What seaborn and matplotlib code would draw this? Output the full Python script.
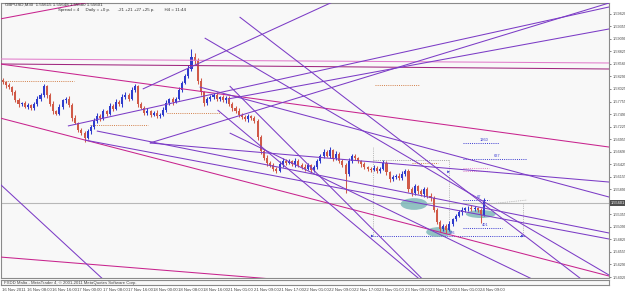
import numpy as np
import pandas as pd
import matplotlib
matplotlib.use("Agg")
import matplotlib.pyplot as plt
import matplotlib.transforms as mtransforms
from matplotlib.patches import Ellipse
import seaborn as sns

# ---------------- data ----------------
symbol_title = "GBPUSD,M30  1.55615 1.55648 1.55580 1.55601"
info_line = "Spread = 4     Daily = +0 p.      -21 +21 +27 +25 p.        H4 = 11:44"
copyright_text = "FXDD Malta - MetaTrader 4, \u00a9 2001-2011 MetaQuotes Software Corp."

first_open = 1.5822
closes = [
    1.5817, 1.5810, 1.5806, 1.5796, 1.5778, 1.5770, 1.5772, 1.5764, 1.5768, 1.5762,
    1.5770, 1.5782, 1.5790, 1.5808, 1.5790, 1.5770, 1.5755, 1.5750, 1.5765, 1.5778,
    1.5782, 1.5768, 1.5740, 1.5730, 1.5715, 1.5708, 1.5698, 1.5712, 1.5722, 1.5735,
    1.5745, 1.5740, 1.5755, 1.5750, 1.5766, 1.5760, 1.5775, 1.5770, 1.5785, 1.5790,
    1.5782, 1.5800, 1.5808, 1.5770, 1.5762, 1.5752, 1.5755, 1.5748, 1.5752, 1.5745,
    1.5748, 1.5758, 1.5772, 1.5780, 1.5775, 1.5782, 1.5800, 1.5815, 1.5830, 1.5845,
    1.5870, 1.5862, 1.5820, 1.5795, 1.5772, 1.5780, 1.5785, 1.5790, 1.5780, 1.5785,
    1.5778, 1.5784, 1.5770, 1.5762, 1.5755, 1.5748, 1.5742, 1.5738, 1.5745, 1.5740,
    1.5735, 1.5700, 1.5670, 1.5655, 1.5645, 1.5640, 1.5632, 1.5628, 1.5642, 1.5650,
    1.5645, 1.5648, 1.5642, 1.5650, 1.5640, 1.5636, 1.5632, 1.5640, 1.5630, 1.5636,
    1.5648, 1.5660, 1.5668, 1.5660, 1.5672, 1.5655, 1.5665, 1.5650, 1.5640, 1.5622,
    1.5650, 1.5660, 1.5655, 1.5648, 1.5642, 1.5636, 1.5632, 1.5630, 1.5635, 1.5628,
    1.5632, 1.5645, 1.5625, 1.5610, 1.5615, 1.5618, 1.5612, 1.5622, 1.5628, 1.5590,
    1.5580, 1.5595, 1.5585, 1.5578, 1.5590, 1.5575, 1.5570, 1.5545, 1.5520, 1.5505,
    1.5510, 1.5502, 1.5515, 1.5525, 1.5532, 1.5540, 1.5545, 1.5548, 1.5550, 1.5546,
    1.5549, 1.5545, 1.5535, 1.5562,
]
# upper / lower wick lengths in pips
up_wick = [
    4, 3, 5, 3, 4, 6, 3, 5, 4, 3,   5, 6, 4, 5, 3, 4, 6, 3, 5, 4,
    3, 5, 4, 6, 3, 4, 5, 6, 4, 5,   6, 4, 5, 3, 6, 4, 5, 3, 6, 5,
    4, 6, 5, 3, 4, 5, 6, 3, 4, 5,   3, 5, 6, 4, 5, 3, 6, 5, 4, 8,
    18, 10, 6, 5, 4, 6, 5, 4, 5, 3, 5, 4, 3, 5, 4, 6, 3, 4, 5, 3,
    4, 3, 5, 4, 6, 3, 5, 4, 6, 5,   3, 6, 4, 5, 3, 4, 6, 5, 3, 4,
    6, 5, 7, 4, 6, 3, 5, 4, 3, 4,   6, 4, 5, 3, 4, 5, 3, 4, 6, 3,
    5, 6, 4, 3, 5, 4, 6, 5, 4, 3,   4, 6, 3, 5, 4, 3, 5, 4, 3, 4,
    5, 4, 6, 3, 5, 4, 6, 3, 4, 5,   4, 3, 5, 8,
]
down_wick = [
    3, 5, 4, 6, 3, 5, 4, 3, 5, 4,   4, 3, 5, 4, 6, 3, 5, 4, 3, 5,
    5, 4, 6, 3, 5, 4, 8, 3, 5, 4,   4, 5, 3, 6, 4, 5, 3, 4, 5, 3,
    5, 3, 4, 6, 3, 5, 4, 6, 3, 4,   4, 3, 5, 4, 6, 3, 4, 5, 3, 4,
    5, 6, 7, 5, 6, 3, 4, 5, 3, 4,   3, 5, 4, 6, 3, 5, 4, 3, 5, 4,
    4, 6, 5, 3, 6, 4, 5, 4, 3, 5,   5, 3, 4, 6, 3, 5, 4, 3, 6, 4,
    3, 4, 5, 3, 4, 6, 3, 5, 4, 41,  4, 5, 3, 4, 6, 3, 5, 4, 3, 5,
    4, 3, 5, 6, 4, 5, 3, 4, 5, 6,   5, 4, 6, 3, 5, 4, 6, 5, 4, 7,
    4, 6, 3, 5, 4, 3, 5, 4, 6, 3,   4, 5, 18, 3,
]

time_labels = ["16 Nov 2011", "16 Nov 08:00", "16 Nov 16:00", "17 Nov 00:00",
               "17 Nov 08:00", "17 Nov 16:00", "18 Nov 00:00", "18 Nov 08:00",
               "18 Nov 16:00", "21 Nov 01:00", "21 Nov 09:00", "21 Nov 17:00",
               "22 Nov 01:00", "22 Nov 09:00", "22 Nov 17:00", "23 Nov 01:00",
               "23 Nov 09:00", "23 Nov 17:00", "24 Nov 01:00", "24 Nov 09:00"]
price_labels = ["1.59620", "1.59355", "1.59090", "1.58825", "1.58560", "1.58290",
                "1.58025", "1.57755", "1.57490", "1.57225", "1.56955", "1.56690",
                "1.56425", "1.56155", "1.55890", "1.55620", "1.55355", "1.55090",
                "1.54820", "1.54555", "1.54290", "1.54020"]
current_price = 1.55601

# trend lines: (bar1, price1, bar2, price2, kind) - rays extended to the right
trend_lines = pd.DataFrame([
    (-1.3, 1.59514, 52.7, 1.59854, "magenta"),
    (-1.3, 1.58662, 386.0, 1.58577, "pink"),
    (-1.3, 1.58556, 386.0, 1.58449, "darkmagenta"),
    (-1.3, 1.58556, 386.0, 1.56788, "magenta"),
    (-1.3, 1.57406, 386.0, 1.54042, "magenta"),
    (-1.3, 1.54447, 172.1, 1.53978, "magenta"),
    (89.5, 1.58023, 157.5, 1.59066, "purple"),
    (94.0, 1.56874, 386.0, 1.59854, "purple"),
    (41.9, 1.57236, 386.0, 1.59769, "purple"),
    (143.5, 1.57810, 386.0, 1.59301, "purple"),
    (94.0, 1.56874, 386.0, 1.56043, "purple"),
    (125.7, 1.58066, 386.0, 1.55724, "purple"),
    (60.3, 1.57129, 386.0, 1.54958, "purple"),
    (52.7, 1.56937, 386.0, 1.54830, "purple"),
    (137.1, 1.57576, 265.4, 1.53978, "purple"),
    (144.8, 1.58087, 267.3, 1.53978, "purple"),
    (144.8, 1.57087, 337.1, 1.53978, "purple"),
    (151.1, 1.59556, 368.3, 1.53978, "purple"),
    (128.9, 1.59109, 386.0, 1.54063, "purple"),
    (-1.3, 1.56001, 64.1, 1.53978, "purple"),
], columns=["b1", "p1", "b2", "p2", "kind"])

# dotted horizontal levels: (bar_start, bar_end, price, kind, label)
levels = pd.DataFrame([
    (0.6, 46.0, 1.58194, "orange", ""),
    (56.0, 93.0, 1.57257, "orange", ""),
    (105.0, 140.0, 1.57512, "orange", ""),
    (237.0, 265.0, 1.58108, "orange", ""),
    (261.0, 277.0, 1.56448, "orange", ""),
    (293.0, 316.0, 1.56874, "blue", "1260"),
    (293.0, 333.0, 1.56533, "blue", "627"),
    (293.0, 310.0, 1.56341, "pinkdot", ""),
    (293.0, 310.0, 1.56277, "pinkdot", ""),
    (293.0, 310.0, 1.55660, "blue", "67"),
    (293.0, 318.0, 1.55064, "blue", "401"),
    (235.5, 333.0, 1.54894, "blue", "376"),
    (236.0, 284.0, 1.56512, "gray", ""),
], columns=["b0", "b1", "price", "kind", "label"])

# highlighted zones (centre bar, centre price, width in bars, height in price)
zones = pd.DataFrame([
    (262.0, 1.55575, 17.0, 0.00250),
    (278.0, 1.54979, 16.5, 0.00210),
    (304.5, 1.55362, 19.0, 0.00170),
], columns=["bar", "price", "w", "h"])

# ---------------- style ----------------
sns.set_theme(style="white")
plt.rcParams["font.family"] = ["Liberation Sans", "DejaVu Sans"]

colors = {"magenta": "#c8248e", "pink": "#e27ccb", "darkmagenta": "#a0267e",
          "purple": "#7c3cc6"}
level_colors = {"orange": "#d2804a", "blue": "#3a3ad0", "pinkdot": "#e080c8",
                "gray": "#a0a0a0"}
bull_col = "#2f3ccc"
bear_col = "#d05a48"
bg = "#f8f8f8"

W, H = 625, 293
fig = plt.figure(figsize=(W / 100, H / 100), dpi=100)
fig.patch.set_facecolor("white")

AX_L, AX_R = 1, 609
ax = fig.add_axes([AX_L / W, 1 - 278 / H, (AX_R - AX_L) / W, 275 / H])
ax.set_facecolor(bg)
xmin, xmax = -0.63, 386.0
ax.set_xlim(xmin, xmax)
ax.set_ylim(1.54000, 1.59854)

# candles
n = len(closes)
cl = np.array(closes)
op = np.concatenate([[first_open], cl[:-1]])
hi = np.maximum(op, cl) + np.array(up_wick) * 1e-4
lo = np.minimum(op, cl) - np.array(down_wick) * 1e-4
xb = np.arange(n) * 2 + 0.5
bull = cl >= op
cols = np.where(bull, bull_col, bear_col)
ax.vlines(xb, lo, hi, colors=cols, linewidth=0.75, zorder=3)
body = np.where(np.abs(cl - op) < 0.5e-4, 0.5e-4, cl - op)
ax.bar(xb, body, bottom=op, width=1.3, color=cols, linewidth=0, zorder=3)

# current price line
ax.axhline(current_price, color="#b8b8b8", lw=0.8, zorder=1)

# trend lines (rays)
for r in trend_lines.itertuples():
    slope = (r.p2 - r.p1) / (r.b2 - r.b1)
    xe = xmax + 5
    ye = r.p1 + slope * (xe - r.b1)
    ax.plot([r.b1, xe], [r.p1, ye], color=colors[r.kind], lw=0.75,
            solid_capstyle="butt", zorder=4)

# dotted levels
for r in levels.itertuples():
    ax.plot([r.b0, r.b1], [r.price, r.price], color=level_colors[r.kind],
            lw=0.7, ls=(0, (1, 1.2)), zorder=2)
    if r.label:
        ax.text((r.b0 + r.b1) / 2 + 2, r.price + 0.0003, r.label, fontsize=2.8,
                color=level_colors[r.kind], ha="center", va="bottom", zorder=5)

# gray dotted box elements
ax.plot([236, 236], [1.54894, 1.56788], color="#a8a8a8", lw=0.6, ls=(0, (1, 1.2)))
ax.plot([284, 284], [1.54894, 1.56512], color="#a8a8a8", lw=0.6, ls=(0, (1, 1.2)))
ax.plot([331, 331], [1.54894, 1.55596], color="#a8a8a8", lw=0.6, ls=(0, (1, 1.2)))
ax.plot([305, 334], [1.55560, 1.55660], color="#a8a8a8", lw=0.6, ls=(0, (1, 1.2)))

# zones
for r in zones.itertuples():
    ax.add_patch(Ellipse((r.bar, r.price), r.w, r.h, facecolor="#7fb9b9",
                         edgecolor="none", alpha=0.85, zorder=2.5))

# small blue markers
sns.scatterplot(x=[284, 235.5, 331], y=[1.56260, 1.54894, 1.54894], marker=">",
                s=4, color="#3a3ad0", edgecolor="none", ax=ax, zorder=6)

# price axis
ax.yaxis.tick_right()
pv = [float(s) for s in price_labels]
ax.set_yticks(pv)
ax.set_yticklabels(price_labels)
ax.tick_params(axis="y", labelsize=2.8, length=1.5, width=0.5, pad=0.8,
               colors="#555555", labelcolor="#444444")
ax.set_xticks([])
for s in ax.spines.values():
    s.set_color("#8a8a8a")
    s.set_linewidth(0.8)

# current price tag
trans = mtransforms.blended_transform_factory(ax.transAxes, ax.transData)
ax.text(1.0035, current_price, "%.5f" % current_price, transform=trans,
        fontsize=2.8, color="white", va="center", ha="left",
        bbox=dict(boxstyle="square,pad=0.2", fc="#505050", ec="none"), zorder=10)

# header texts
fig.text(5 / W, 1 - 4.5 / H, symbol_title, fontsize=3.2, color="#333333",
         va="center", ha="left")
fig.text(58 / W, 1 - 10.5 / H, info_line, fontsize=3.2, color="#333333",
         va="center", ha="left")

# lower strip with copyright and time axis
ax2 = fig.add_axes([AX_L / W, 1 - 285 / H, (AX_R - AX_L) / W, 5 / H])
ax2.set_facecolor(bg)
ax2.set_xlim(xmin, xmax)
ax2.set_yticks([])
ax2.text(1, 0.45, copyright_text, fontsize=3.1, color="#444444", va="center",
         ha="left")
tick_pos = np.arange(len(time_labels)) * 16
ax2.set_xticks(tick_pos)
ax2.set_xticklabels(time_labels)
ax2.tick_params(axis="x", labelsize=3.1, length=1.5, width=0.5, pad=0.8,
                colors="#555555", labelcolor="#444444")
for lab in ax2.get_xticklabels():
    lab.set_horizontalalignment("left")
for s in ax2.spines.values():
    s.set_color("#8a8a8a")
    s.set_linewidth(0.8)

fig.savefig("out.png", dpi=100, facecolor="white")
